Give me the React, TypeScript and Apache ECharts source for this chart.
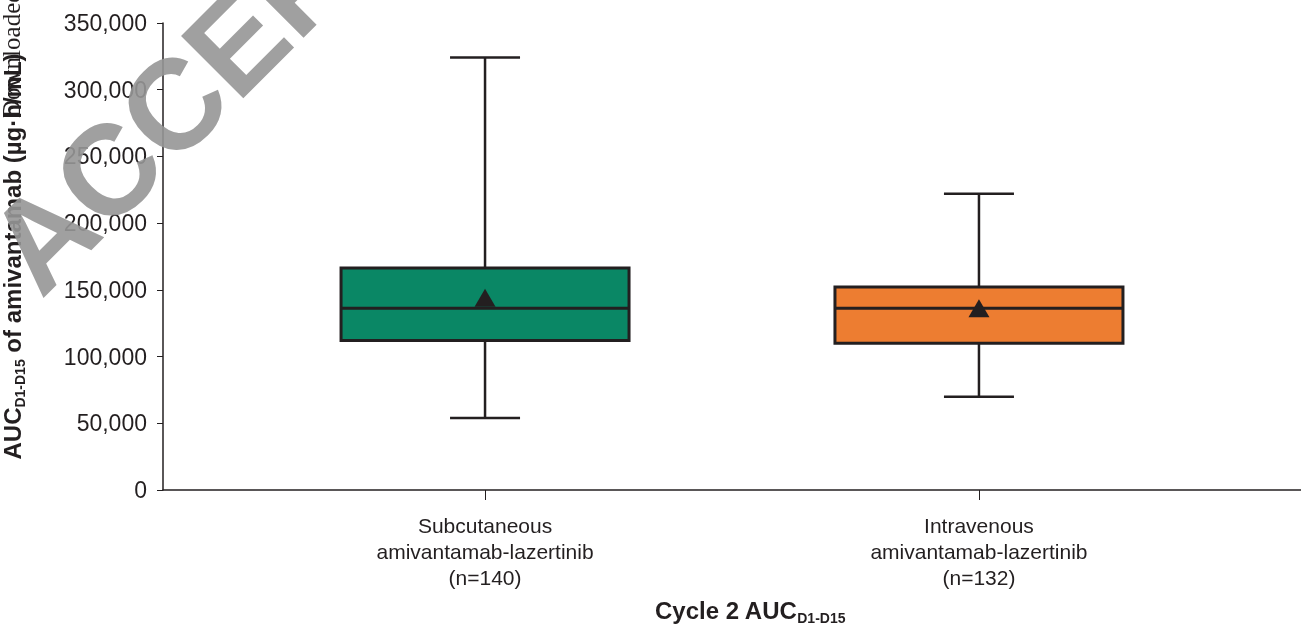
import React, { useEffect, useRef } from "react";
import * as echarts from "echarts";

const categories = [
  "Subcutaneous\namivantamab-lazertinib\n(n=140)",
  "Intravenous\namivantamab-lazertinib\n(n=132)",
];
const whiskerLow = [54000, 69800];
const q1 = [112000, 110000];
const medians = [136300, 136300];
const q3 = [166300, 152100];
const whiskerHigh = [324200, 222000];
const means = [144000, 136300];
const boxColors = ["#0a8765", "#ed7d31"];
const yTicks = [0, 50000, 100000, 150000, 200000, 250000, 300000, 350000];

const DARK = "#231f20";
const FONT = "'Liberation Sans', Arial, sans-serif";
const BOX_W = 288;
const CAP_W = 70;

const fmt = (v: number) => String(Math.round(v)).replace(/\B(?=(\d{3})+(?!\d))/g, ",");

export default function App() {
  const ref = useRef<HTMLDivElement>(null);
  useEffect(() => {
    if (!ref.current) return;
    const chart = echarts.init(ref.current, null, { renderer: "svg" });
    const boxData = categories.map((_, i) => [i, whiskerLow[i], q1[i], medians[i], q3[i], whiskerHigh[i]]);
    const meanData = means.map((m, i) => [i, m]);
    chart.setOption({
      animation: false,
      grid: { left: 163, right: 0, top: 23, bottom: 143, containLabel: false, outerBoundsMode: "none" },
      xAxis: {
        type: "value",
        min: -0.652,
        max: 1.652,
        splitLine: { show: false },
        axisLine: { show: true, onZero: false, lineStyle: { color: DARK, width: 1.5 } },
        axisTick: { show: true, customValues: [0, 1], length: 10, lineStyle: { color: DARK, width: 1 } },
        axisLabel: {
          show: true,
          customValues: [0, 1],
          formatter: (v: number) => categories[Math.round(v)] ?? "",
          fontFamily: FONT,
          fontSize: 21,
          lineHeight: 26,
          color: DARK,
          margin: 22,
        },
        name: "{b|Cycle 2 AUC}{s|D1-D15}",
        nameLocation: "middle",
        nameGap: 104,
        nameTextStyle: {
          padding: [0, 0, 0, 36],
          rich: {
            b: { fontFamily: FONT, fontWeight: "bold", fontSize: 24, color: DARK, lineHeight: 28, verticalAlign: "bottom" },
            s: { fontFamily: FONT, fontWeight: "bold", fontSize: 14, color: DARK, lineHeight: 28, verticalAlign: "bottom", padding: [0, 0, -3, 0] },
          },
        },
      },
      yAxis: {
        type: "value",
        min: 0,
        max: 350000,
        interval: 50000,
        splitLine: { show: false },
        axisLine: { show: true, onZero: false, lineStyle: { color: DARK, width: 1.5 } },
        axisTick: { show: true, length: 6, lineStyle: { color: DARK, width: 1 } },
        axisLabel: {
          formatter: (v: number) => (yTicks.includes(v) ? fmt(v) : ""),
          fontFamily: FONT,
          fontSize: 23,
          color: DARK,
          margin: 16,
        },
        name: "{b|AUC}{s|D1-D15}{b| of amivantamab (µg·h/mL)}",
        nameLocation: "middle",
        nameGap: 139,
        nameTextStyle: {
          rich: {
            b: { fontFamily: FONT, fontWeight: "bold", fontSize: 24, color: DARK, lineHeight: 28, verticalAlign: "bottom" },
            s: { fontFamily: FONT, fontWeight: "bold", fontSize: 14, color: DARK, lineHeight: 28, verticalAlign: "bottom", padding: [0, 0, -3, 0] },
          },
        },
      },
      series: [
        {
          type: "custom",
          data: boxData,
          encode: { x: 0, y: [1, 2, 3, 4, 5] },
          renderItem: (params: any, api: any) => {
            const x = api.value(0);
            const idx = params.dataIndex;
            const pLow = api.coord([x, api.value(1)]);
            const pQ1 = api.coord([x, api.value(2)]);
            const pMed = api.coord([x, api.value(3)]);
            const pQ3 = api.coord([x, api.value(4)]);
            const pHigh = api.coord([x, api.value(5)]);
            const cx = pMed[0];
            const lineStyle = { stroke: DARK, lineWidth: 2.5 };
            return {
              type: "group",
              children: [
                { type: "line", shape: { x1: cx, y1: pHigh[1], x2: cx, y2: pQ3[1] }, style: lineStyle },
                { type: "line", shape: { x1: cx, y1: pQ1[1], x2: cx, y2: pLow[1] }, style: lineStyle },
                { type: "line", shape: { x1: cx - CAP_W / 2, y1: pHigh[1], x2: cx + CAP_W / 2, y2: pHigh[1] }, style: lineStyle },
                { type: "line", shape: { x1: cx - CAP_W / 2, y1: pLow[1], x2: cx + CAP_W / 2, y2: pLow[1] }, style: lineStyle },
                {
                  type: "rect",
                  shape: { x: cx - BOX_W / 2, y: pQ3[1], width: BOX_W, height: pQ1[1] - pQ3[1] },
                  style: { fill: boxColors[idx], stroke: DARK, lineWidth: 3 },
                },
                { type: "line", shape: { x1: cx - BOX_W / 2, y1: pMed[1], x2: cx + BOX_W / 2, y2: pMed[1] }, style: { stroke: DARK, lineWidth: 3 } },
              ],
            };
          },
          z: 2,
        },
        {
          type: "scatter",
          data: meanData,
          symbol: "triangle",
          symbolSize: [21, 18],
          itemStyle: { color: DARK, opacity: 1 },
          z: 3,
        },
      ],
      graphic: [
        {
          type: "text",
          x: 11,
          y: 118,
          rotation: Math.PI / 2,
          z: 50,
          style: {
            text: "Downloaded from https://academic.oup.com",
            font: "25px 'Liberation Serif', 'Times New Roman', serif",
            fill: DARK,
            textAlign: "left",
            textVerticalAlign: "middle",
          },
        },
        {
          type: "text",
          x: 55,
          y: 314,
          rotation: Math.PI / 4,
          z: 100,
          style: {
            text: "ACCEPTED MANUSCRIPT",
            font: "bold 128px 'Liberation Sans', Arial, sans-serif",
            fill: "rgba(150,150,150,0.9)",
            textAlign: "left",
            textVerticalAlign: "bottom",
          },
        },
      ],
    });
    return () => chart.dispose();
  }, []);
  return <div ref={ref} style={{ position: "fixed", left: 0, top: 0, width: 1301, height: 633 }} />;
}
